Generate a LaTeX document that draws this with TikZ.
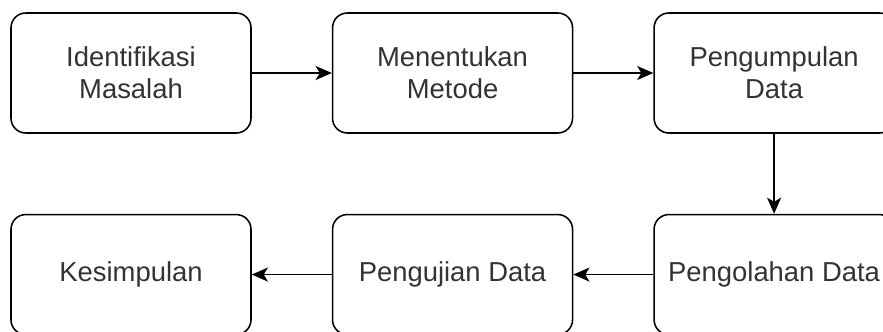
\documentclass[tikz,border=0pt]{standalone}
\usepackage{fontspec}
\setmainfont{Liberation Sans}
\usepackage{tikz}
\usepackage{xcolor}
\usetikzlibrary{
    arrows.meta,
    positioning
}
\definecolor{edge}{HTML}{000000}
\definecolor{label}{HTML}{333333}
\tikzset{
    % Process step style
    stepbox/.style={
        rectangle,
        rounded corners=10.5pt,
        minimum width=6cm,
        minimum height=3cm,
        align=center,
        font=\fontsize{19.5}{22.7}\selectfont,
        text=label,
        draw=edge,
        fill=white,
        line width=1.1pt
    },
    % Arrow style
    flow/.style={
        -{Stealth[length=11.5pt, width=10pt, inset=3pt]},
        line width=1.1pt,
        color=edge
    }
}

\begin{document}
\begin{tikzpicture}[node distance=2cm and 2cm]
        
        % Frame
        \useasboundingbox (0,0) rectangle (22.075,-8.275);
        \clip (0,0) rectangle (22.075,-8.275);
        
        % Top row
        \node[stepbox] (identifikasi) at (3.275,-1.825) {Identifikasi\\Masalah};
        \node[stepbox, right=of identifikasi] (metode) {Menentukan\\Metode};
        \node[stepbox, right=of metode] (pengumpulan) {Pengumpulan\\Data};
        
        % Bottom row
        \node[stepbox, below=of pengumpulan] (pengolahan) {Pengolahan Data};
        \node[stepbox, left=of pengolahan] (pengujian) {Pengujian Data};
        \node[stepbox, left=of pengujian] (kesimpulan) {Kesimpulan};
        
        % Connections
        \draw[flow] (identifikasi) -- (metode);
        \draw[flow] (metode) -- (pengumpulan);
        \draw[flow] (pengumpulan) -- (pengolahan);
        \draw[flow] (pengolahan) -- (pengujian);
        \draw[flow] (pengujian) -- (kesimpulan);
        
    \end{tikzpicture}
\end{document}
